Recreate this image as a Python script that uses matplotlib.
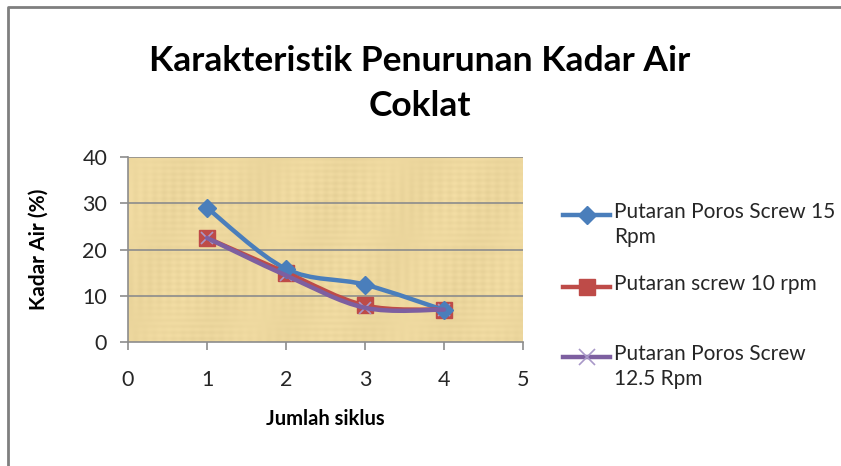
import numpy as np
import matplotlib
matplotlib.use("Agg")
import matplotlib.pyplot as plt
from matplotlib.path import Path
from matplotlib.patches import PathPatch
from matplotlib.lines import Line2D

plt.rcParams['font.family'] = ['Lato', 'DejaVu Sans']

siklus = [1, 2, 3, 4]
rpm15 = [29.0, 15.8, 12.4, 6.9]
rpm10 = [22.5, 15.0, 7.9, 7.0]
rpm12_5 = [22.5, 14.4, 7.4, 7.0]

labels = ["Putaran Poros Screw 15\nRpm", "Putaran screw 10 rpm", "Putaran Poros Screw\n12.5 Rpm"]
colors = ["#4A7EBB", "#BE4B48", "#7D5FA0"]
markers = ["D", "s", "x"]
xticks = [0, 1, 2, 3, 4, 5]
yticks = [0, 10, 20, 30, 40]


def smooth_path(x, y):
    # catmull-rom style bezier, like excel "smoothed line"
    p = np.column_stack([x, y]).astype(float)
    ext = np.vstack([p[0], p, p[-1]])
    verts = [p[0]]
    codes = [Path.MOVETO]
    for i in range(len(p) - 1):
        p0, p1, p2, p3 = ext[i], ext[i + 1], ext[i + 2], ext[i + 3]
        verts += [p1 + (p2 - p0) / 6, p2 - (p3 - p1) / 6, p2]
        codes += [Path.CURVE4] * 3
    return Path(verts, codes)


fig = plt.figure(figsize=(8.41, 4.66), dpi=100)
ax = fig.add_axes([128 / 841, 1 - 342 / 466, 395 / 841, 185 / 466])

# papyrus-like background
gx, gy = np.meshgrid(np.linspace(0, 1, 400), np.linspace(0, 1, 200))
tex = (0.5 + 0.18 * np.sin(gx * 260) * np.sin(gy * 7) + 0.18 * np.sin(gy * 190) * np.sin(gx * 9)
       + 0.12 * np.sin(gx * 31 + gy * 5))
base = np.array([0.93, 0.845, 0.62])
img = base[None, None, :] + (tex[:, :, None] - 0.5) * 0.06
ax.imshow(np.clip(img, 0, 1), extent=[0, 1, 0, 1], transform=ax.transAxes,
          aspect='auto', zorder=0)

for yv in yticks[1:]:
    ax.axhline(yv, color="#8C8C8C", lw=1.2, zorder=1)

series = [rpm15, rpm10, rpm12_5]
zs = [3, 3, 4]
for vals, c, m, z in zip(series, colors, markers, zs):
    ax.add_patch(PathPatch(smooth_path(siklus, vals), fill=False, edgecolor=c, lw=3.2,
                           capstyle='round', joinstyle='round', zorder=z))
    if m == "D":
        ax.plot(siklus, vals, ls='none', marker=m, ms=9, color=c, zorder=z + 1)
    elif m == "s":
        ax.plot(siklus, vals, ls='none', marker=m, ms=11, color=c, zorder=z - 0.5)
    else:
        ax.plot(siklus, vals, ls='none', marker=m, ms=9, mew=1.2, color="#A898C8", zorder=z - 0.6)

ax.set_xlim(0, 5)
ax.set_ylim(0, 40)
ax.set_xticks(xticks)
ax.set_yticks(yticks)
for s in ["top", "right"]:
    ax.spines[s].set_visible(False)
for s in ["left", "bottom"]:
    ax.spines[s].set_color("#8C8C8C")
    ax.spines[s].set_linewidth(1.2)
ax.tick_params(axis='both', colors="#8C8C8C", labelcolor="#262626", labelsize=15.5, length=6, width=1.2)
ax.tick_params(axis='x', pad=14)
ax.tick_params(axis='y', pad=9)
ax.set_xlabel("Jumlah siklus", fontsize=14.5, fontweight='bold', labelpad=14)
ax.set_ylabel("Kadar Air (%)", fontsize=15, fontweight='bold', labelpad=24)

fig.text(420 / 841, 1 - 71 / 466, "Karakteristik Penurunan Kadar Air", ha='center', va='baseline',
         fontsize=25.5, fontweight='bold')
fig.text(420 / 841, 1 - 116 / 466, "Coklat", ha='center', va='baseline',
         fontsize=25.5, fontweight='bold')

# legend, drawn by hand
leg_y = [215, 287, 357]
for lab, c, m, yp in zip(labels, colors, markers, leg_y):
    yf = 1 - yp / 466
    fig.add_artist(Line2D([563 / 841, 610 / 841], [yf, yf], color=c, lw=3.2,
                          transform=fig.transFigure))
    if m == "x":
        fig.add_artist(Line2D([586.5 / 841], [yf], marker=m, ms=11, mew=1.2, color="#A898C8",
                              transform=fig.transFigure))
    else:
        fig.add_artist(Line2D([586.5 / 841], [yf], marker=m, ms=9 if m == "D" else 11, color=c,
                              transform=fig.transFigure))
    fig.text(614 / 841, yf + 13 / 466, lab, ha='left', va='top', fontsize=15,
             color="#262626", linespacing=1.3)

# outer frame
fig.add_artist(Line2D([8 / 841, 8 / 841, 1], [0, 1 - 7 / 466, 1 - 7 / 466], color="#7F7F7F",
                      lw=2, transform=fig.transFigure))

fig.savefig("out.png", dpi=100)
